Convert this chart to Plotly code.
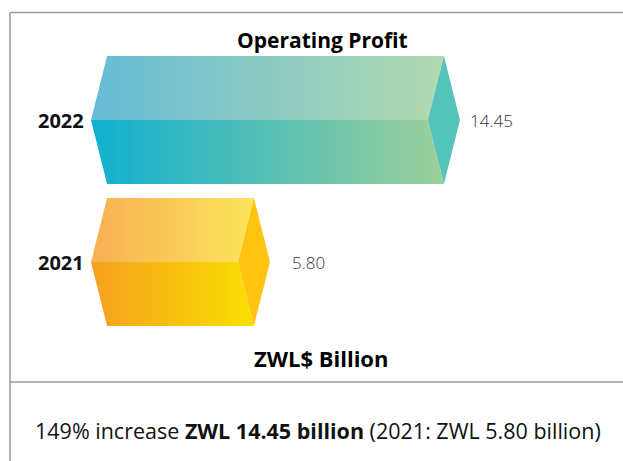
import plotly.graph_objects as go

# ---- data ----
categories = ["2022", "2021"]
values = [14.45, 5.80]
value_labels = ["14.45", "5.80"]
title_text = "Operating Profit"
unit_text = "ZWL$ Billion"
footer_text = "149% increase <b>ZWL 14.45 billion</b> (2021: ZWL 5.80 billion)"

# ---- style ----
W, H = 623, 461
top_colors = [("#66bcd6", "#b2dab1"), ("#f8b055", "#fce55a")]
bottom_colors = [("#10b0d1", "#9dd09a"), ("#f6a01f", "#fae000")]
side_colors = ["#54c3ba", "#ffc412"]
y_pos = [1, 0]
half_h = 0.45
depth = 0.73
base = -0.89
value_shift = [8, 20]
FONT = "Open Sans"

fig = go.Figure()

for cat, v, yc, tc, bc, sc in zip(categories, values, y_pos, top_colors, bottom_colors, side_colors):
    # top face
    fig.add_trace(go.Scatter(
        x=[base - depth, base, v, v - depth, base - depth],
        y=[yc, yc + half_h, yc + half_h, yc, yc],
        fill="toself", mode="lines", line=dict(width=0),
        fillgradient=dict(type="horizontal", colorscale=[[0, tc[0]], [1, tc[1]]]),
        hoverinfo="skip", showlegend=False))
    # bottom face
    fig.add_trace(go.Scatter(
        x=[base - depth, v - depth, v, base, base - depth],
        y=[yc, yc, yc - half_h, yc - half_h, yc],
        fill="toself", mode="lines", line=dict(width=0),
        fillgradient=dict(type="horizontal", colorscale=[[0, bc[0]], [1, bc[1]]]),
        hoverinfo="skip", showlegend=False))
    # right face
    fig.add_trace(go.Scatter(
        x=[v, v + depth, v, v - depth, v],
        y=[yc + half_h, yc, yc - half_h, yc, yc + half_h],
        fill="toself", mode="lines", line=dict(width=0), fillcolor=sc,
        hoverinfo="skip", showlegend=False))

annotations = []
for cat, v, yc, lab, sh in zip(categories, values, y_pos, value_labels, value_shift):
    annotations.append(dict(x=base - depth, y=yc, xref="x", yref="y", text=f"<b>{cat}</b>",
                            showarrow=False, xanchor="right", yanchor="middle", xshift=-5,
                            font=dict(family=FONT, size=20, color="#111")))
    annotations.append(dict(x=v + depth, y=yc, xref="x", yref="y", text=lab,
                            showarrow=False, xanchor="left", yanchor="middle", xshift=sh,
                            font=dict(family=FONT, size=17, color="#333", weight=300)))

annotations += [
    dict(x=322 / W, y=1 - 40 / H, xref="paper", yref="paper", text=f"<b>{title_text}</b>",
         showarrow=False, xanchor="center", yanchor="middle",
         font=dict(family=FONT, size=21, color="#000")),
    dict(x=321 / W, y=1 - 358 / H, xref="paper", yref="paper", text=f"<b>{unit_text}</b>",
         showarrow=False, xanchor="center", yanchor="middle",
         font=dict(family=FONT, size=22, color="#000")),
    dict(x=318 / W, y=1 - 430 / H, xref="paper", yref="paper", text=footer_text,
         showarrow=False, xanchor="center", yanchor="middle",
         font=dict(family=FONT, size=21.5, color="#111")),
]

line_style = dict(color="#9a9a9a", width=1.5)
shapes = [
    dict(type="line", xref="paper", yref="paper", x0=10 / W, x1=1, y0=1 - 12.5 / H, y1=1 - 12.5 / H, line=line_style),
    dict(type="line", xref="paper", yref="paper", x0=10 / W, x1=10 / W, y0=1 - 12.5 / H, y1=0, line=line_style),
    dict(type="line", xref="paper", yref="paper", x0=10 / W, x1=1, y0=1 - 382 / H, y1=1 - 382 / H, line=line_style),
]

px_per_unit = 21.96
zero_px = 126.6
xmin = -zero_px / px_per_unit
xmax = xmin + W / px_per_unit
py_per_unit = 142
ymax = 262 / py_per_unit
ymin = (262 - H) / py_per_unit

fig.update_layout(
    width=W, height=H, margin=dict(l=0, r=0, t=0, b=0),
    paper_bgcolor="white", plot_bgcolor="white",
    xaxis=dict(range=[xmin, xmax], visible=False, fixedrange=True),
    yaxis=dict(range=[ymin, ymax], visible=False, fixedrange=True),
    annotations=annotations, shapes=shapes,
)

fig.write_html("out.html", config={"displayModeBar": False},
               post_script="document.body.style.margin='0';document.body.style.overflow='hidden';")
